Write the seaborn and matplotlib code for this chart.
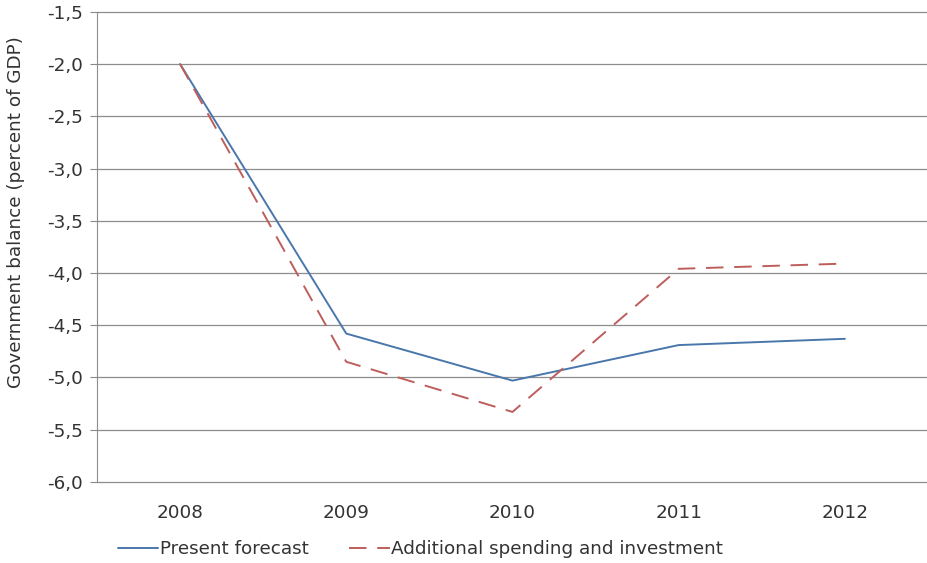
import numpy as np
import pandas as pd
import seaborn as sns
import matplotlib.pyplot as plt

years = ["2008", "2009", "2010", "2011", "2012"]
present = [-2.0, -4.58, -5.03, -4.69, -4.63]
additional = [-2.0, -4.85, -5.33, -3.96, -3.91]
series_names = ["Present forecast", "Additional spending and investment"]
yticks = [-6.0, -5.5, -5.0, -4.5, -4.0, -3.5, -3.0, -2.5, -2.0, -1.5]

df = pd.DataFrame({
    "Year": years * 2,
    "Balance": present + additional,
    "Series": [series_names[0]] * len(years) + [series_names[1]] * len(years),
})

sns.set_style("white")
plt.rcParams["font.family"] = ["DejaVu Sans"]
fs = 13.2

fig = plt.figure(figsize=(9.28, 5.63), dpi=100)
ax = fig.add_axes([0.1045, 0.144, 0.8955, 0.835])

sns.lineplot(data=df, x="Year", y="Balance", hue="Series", style="Series",
             palette=["#4a77ab", "#bd5e5b"],
             dashes={series_names[0]: "", series_names[1]: (9, 5.5)},
             linewidth=1.4, ax=ax, legend=True, sort=False)

ax.set_xlim(-0.5, 4.5)
ax.set_ylim(-6.0, -1.5)
ax.set_yticks(yticks)
ax.set_yticklabels([f"{v:.1f}".replace(".", ",") for v in yticks], fontsize=fs, color="#333333")
ax.tick_params(axis="x", labelsize=fs, colors="#333333", length=0, pad=16)
ax.tick_params(axis="y", length=5, width=0.8, color="#888888", left=True, pad=5)
ax.yaxis.grid(True, color="#8c8c8c", linewidth=0.9)
for gl in ax.get_ygridlines():
    gl.set_clip_on(False)
ax.set_axisbelow(True)
for side in ["top", "right", "bottom"]:
    ax.spines[side].set_visible(False)
ax.spines["left"].set_color("#8c8c8c")
ax.set_xlabel("")
ax.set_ylabel("Government balance (percent of GDP)", fontsize=fs, color="#333333")
ax.yaxis.set_label_coords(-0.087, 0.574)

leg = ax.legend(loc="center left", bbox_to_anchor=(0.127, 0.025), bbox_transform=fig.transFigure,
                ncol=2, frameon=False, fontsize=fs, handlelength=2.2, handletextpad=0.1,
                columnspacing=2.2, borderaxespad=0, borderpad=0)
for t in leg.get_texts():
    t.set_color("#333333")

plt.savefig("out.png", dpi=100)
